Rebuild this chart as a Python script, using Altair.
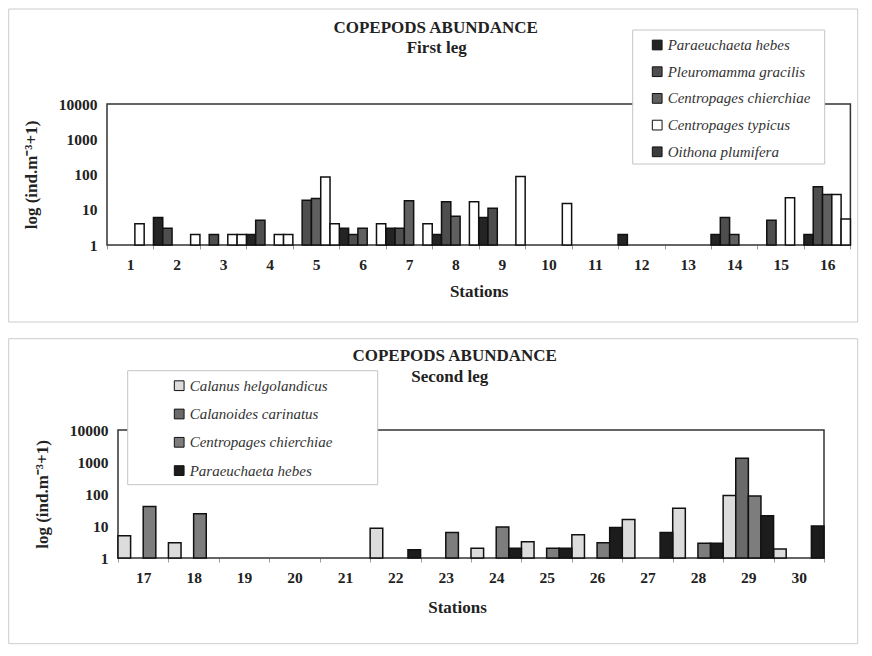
import altair as alt
import pandas as pd

SERIF = "Liberation Serif"
INK = "#222222"

# ---------------- First leg ----------------
stations_1 = ["1", "2", "3", "4", "5", "6", "7", "8", "9", "10", "11", "12", "13", "14", "15", "16"]
species_1 = ["Paraeuchaeta hebes", "Pleuromamma gracilis", "Centropages chierchiae",
             "Centropages typicus", "Oithona plumifera"]
paraeuchaeta_1 = [None, 6, None, 2, None, 3, 3, 2, 6, None, None, 2, None, 2, None, 2]
pleuromamma_1 = [None, 3, 2, 5, 18.5, 2, 3, 17, 11, None, None, None, None, 6, 5, 45]
chierchiae_1 = [None, None, None, None, 21, 3, 18, 6.5, None, None, None, None, None, 2, None, 27]
typicus_1 = [4, None, 2, 2, 85, None, None, None, None, None, None, None, None, None, 22, 27]
oithona_1 = [None, 2, 2, 2, 4, 4, 4, 17, 88, 15, None, None, None, None, None, 5.5]
colors_1 = ["#242424", "#4e4e4e", "#606060", "#ffffff", "#3c3c3c"]

# ---------------- Second leg ----------------
stations_2 = ["17", "18", "19", "20", "21", "22", "23", "24", "25", "26", "27", "28", "29", "30"]
species_2 = ["Calanus helgolandicus", "Calanoides carinatus", "Centropages chierchiae",
             "Paraeuchaeta hebes"]
calanus_2 = [5, 3, None, None, None, 8.5, None, 2, 3.2, 5.3, 16, 36, 90, 1.9]
calanoides_2 = [None, None, None, None, None, None, None, None, None, None, None, None, 1300, None]
chierchiae_2 = [41, 24, None, None, None, None, 6.3, 9.3, 2, 3, None, 2.9, 86, None]
paraeuchaeta_2 = [None, None, None, None, None, 1.8, None, 2, 2, 9, 6.3, 2.9, 21, 10]
colors_2 = ["#dcdcdc", "#6a6a6a", "#7d7d7d", "#1c1c1c"]


def to_long(stations, species, series):
    rows = []
    for sp, vals in zip(species, series):
        for st, v in zip(stations, vals):
            if v is not None:
                rows.append({"station": st, "species": sp, "value": v})
    return pd.DataFrame(rows)


df1 = to_long(stations_1, species_1, [paraeuchaeta_1, pleuromamma_1, chierchiae_1, typicus_1, oithona_1])
df2 = to_long(stations_2, species_2, [calanus_2, calanoides_2, chierchiae_2, paraeuchaeta_2])
one = pd.DataFrame({"k": [0]})


def deco_rect(x1, x2, y1, y2, **style):
    return alt.Chart(one).mark_rect(**style).encode(
        x=alt.value(x1), x2=alt.value(x2), y=alt.value(y1), y2=alt.value(y2))


def deco_text(x, y, s, size):
    return alt.Chart(one).mark_text(font=SERIF, fontWeight="bold", fontSize=size, color=INK,
                                    align="center", baseline="middle").encode(
        x=alt.value(x), y=alt.value(y), text=alt.value(s))


def panel(df, stations, species, colors, w, h, x0, frame, box, lx, ly, row_pad,
          t1, t2, title_pad, stations_title_x=None, white_species=None):
    xaxis = dict(title="Stations", labelAngle=0, labelFont=SERIF, labelFontWeight="bold",
                 labelFontSize=15.5, labelColor=INK, labelPadding=8, ticks=True, tickBand="extent",
                 tickSize=4, tickColor="#9a9a9a", domain=False,
                 titleFont=SERIF, titleFontSize=17, titleFontWeight="bold", titleColor=INK,
                 titlePadding=title_pad)
    if stations_title_x is not None:
        xaxis["titleX"] = stations_title_x
        xaxis["titleAlign"] = "center"
    x = alt.X("station:N", sort=stations,
              scale=alt.Scale(domain=stations, paddingInner=0, paddingOuter=0, range=[x0, w]),
              axis=alt.Axis(**xaxis))
    xoff = alt.XOffset("species:N", sort=species,
                       scale=alt.Scale(domain=species, paddingInner=0, paddingOuter=0))
    yaxis = dict(values=[1, 10, 100, 1000, 10000], format="d",
                 title="log (ind.m⁻³+1)", grid=False, ticks=False, domain=False,
                 labelFont=SERIF, labelFontWeight="bold", labelFontSize=15.5,
                 labelColor=INK, labelPadding=10, titleFont=SERIF, titleFontSize=17,
                 titleFontWeight="bold", titleColor=INK, titlePadding=18)
    if x0:
        yaxis["offset"] = -x0
    y = alt.Y("value:Q", scale=alt.Scale(type="log", domain=[1, 10000], nice=False),
              axis=alt.Axis(**yaxis))
    fill = alt.Fill("species:N", sort=species,
                    scale=alt.Scale(domain=species, range=colors),
                    legend=alt.Legend(orient="none", legendX=lx, legendY=ly, direction="vertical",
                                      title=None, symbolType="square", symbolSize=95,
                                      symbolStrokeColor="#111111", symbolStrokeWidth=1,
                                      labelFont=SERIF, labelFontStyle="italic", labelFontSize=15,
                                      labelColor="#333333", labelOffset=3, rowPadding=row_pad,
                                      padding=0, labelLimit=400))
    if white_species is not None:
        fill = alt.condition(f"datum.species === '{white_species}'", alt.value("#ffffff"), fill)

    bars = alt.Chart(df).mark_bar(stroke="#111111", strokeWidth=1.5).encode(
        x=x, xOffset=xoff, y=y, y2=alt.datum(1), fill=fill)

    outer = deco_rect(*frame, filled=False, stroke="#cccccc", strokeWidth=1)
    plot_frame = deco_rect(x0, w, 0, h, filled=False, stroke="#333333", strokeWidth=1.5)
    legend_box = deco_rect(*box, fill="#ffffff", stroke="#c4c4c4", strokeWidth=1)
    txt1 = deco_text(t1[0], t1[1], t1[2], 17)
    txt2 = deco_text(t2[0], t2[1], t2[2], 17)
    return alt.layer(outer, plot_frame, legend_box, bars, txt1, txt2).properties(width=w, height=h)


p1 = panel(df1, stations_1, species_1, colors_1, 743.4, 141, 0,
           frame=(-98.3, 750.7, -95, 218), box=(525.7, 717.7, -74, 60),
           lx=542.7, ly=-66.5, row_pad=10.7,
           t1=(328.7, -76, "COPEPODS ABUNDANCE"), t2=(329.7, -56, "First leg"),
           title_pad=11, white_species="Oithona plumifera")

p2 = panel(df2, stations_2, species_2, colors_2, 717, 128, 11,
           frame=(-98.3, 750.7, -91.3, 213.7), box=(20.7, 270.7, -59.3, 54.7),
           lx=64.7, ly=-51.8, row_pad=12.3,
           t1=(347.7, -74.3, "COPEPODS ABUNDANCE"), t2=(342.7, -53.3, "Second leg"),
           title_pad=14, stations_title_x=350)

chart = alt.concat(p1, p2, columns=1, spacing=15).properties(
    padding=0, background="white"
).configure_view(strokeWidth=0).resolve_scale(
    x="independent", y="independent", xOffset="independent", fill="independent")

chart.save("out.html", embed_options={"renderer": "svg", "actions": False})
